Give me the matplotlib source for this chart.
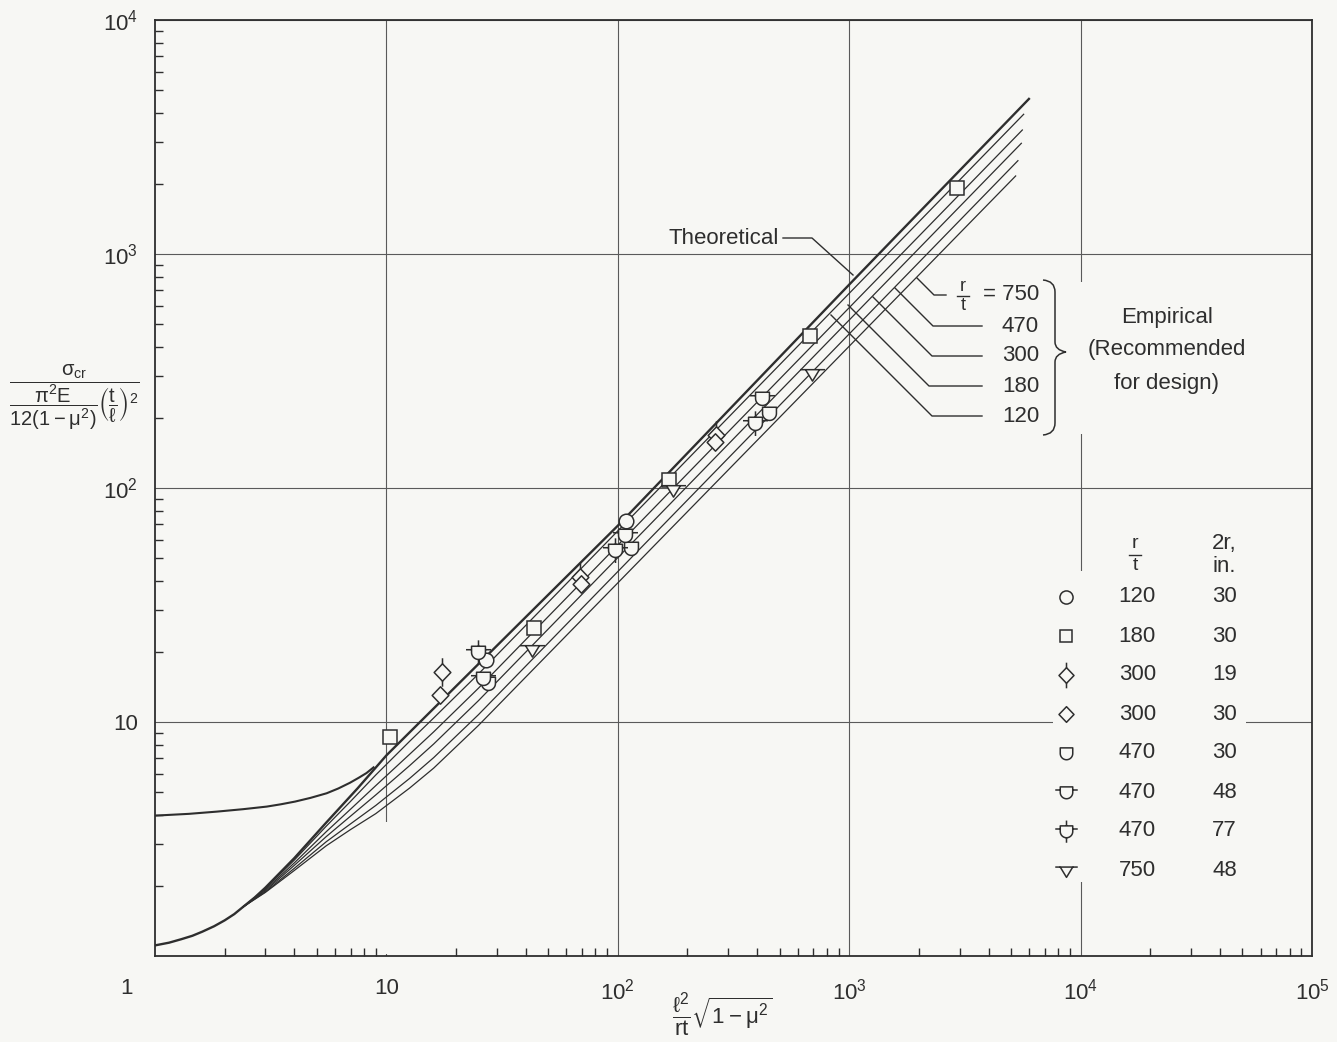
import matplotlib.pyplot as plt
import numpy as np
from matplotlib.path import Path
from matplotlib.patches import Rectangle, PathPatch
from matplotlib.lines import Line2D
from matplotlib.ticker import LogLocator, NullFormatter

plt.rcParams['font.family'] = ['Liberation Sans', 'DejaVu Sans']
plt.rcParams['mathtext.fontset'] = 'dejavusans'
plt.rcParams['mathtext.default'] = 'regular'

W, H = 1337, 1042
BG = '#f7f7f4'
INK = '#2e2e2e'
GRID = '#5a5a5a'

# ---- curves ----
# theoretical, simply supported
ss_z = [1, 1.15, 1.3, 1.45, 1.6, 1.8, 2.0, 2.2, 2.4, 2.7, 3.0, 4.0, 5.5, 7.5, 10, 100, 1000, 5980]
ss_k = [1.11, 1.14, 1.18, 1.22, 1.27, 1.34, 1.42, 1.51, 1.62, 1.78, 1.96, 2.62, 3.72, 5.2, 7.2, 69, 740, 4600]
# theoretical, clamped (low Z branch)
cl_z = [1, 1.4, 1.85, 2.4, 3.04, 3.5, 4.03, 4.7, 5.52, 6.2, 6.96, 7.6, 8.2, 8.8]
cl_k = [3.98, 4.05, 4.14, 4.24, 4.35, 4.45, 4.57, 4.74, 4.96, 5.2, 5.5, 5.78, 6.05, 6.4]

# empirical curves, one per r/t
emp_rt = ['120', '180', '300', '470', '750']
emp_z = [2.4, 3, 4, 5.5, 7, 9, 12.6, 16, 25]
emp_end_z = [5675, 5600, 5545, 5360, 5240]
emp_k_120 = [1.62, 1.94, 2.57, 3.59, 4.58, 5.94, 8.27, 10.4, 16.05, 3955]
emp_k_180 = [1.62, 1.92, 2.50, 3.40, 4.24, 5.35, 7.28, 9.07, 13.95, 3388]
emp_k_300 = [1.62, 1.90, 2.44, 3.24, 3.96, 4.88, 6.51, 8.05, 12.34, 2972]
emp_k_470 = [1.62, 1.88, 2.37, 3.08, 3.67, 4.40, 5.74, 7.04, 10.75, 2505]
emp_k_750 = [1.62, 1.87, 2.32, 2.96, 3.47, 4.06, 5.22, 6.35, 9.67, 2155]

# ---- test points ----
circle_x = [26.9, 108]
circle_y = [18.4, 72]
square_x = [10.4, 43.4, 166, 675, 2910]
square_y = [8.6, 25.2, 108, 446, 1915]
diamond_t_x = [17.4, 68.5, 267]
diamond_t_y = [16.4, 41.5, 168]
diamond_x = [17.0, 69.5, 262]
diamond_y = [13.0, 39.0, 157]
cup_x = [27.5, 113.5, 451]
cup_y = [14.7, 55.5, 210]
cup_h_x = [26.2, 107, 422]
cup_h_y = [15.4, 63, 242]
cup_hv_x = [24.9, 97, 391]
cup_hv_y = [20.0, 54.5, 189]
tri_x = [42.7, 173, 691]
tri_y = [20.6, 98.7, 309]

# legend table
leg_keys = ['circle', 'square', 'diamond_t', 'diamond', 'cup', 'cup_h', 'cup_hv', 'tri']
leg_rt = ['120', '180', '300', '300', '470', '470', '470', '750']
leg_d = ['30', '30', '19', '30', '30', '48', '77', '48']


# ---- custom marker shapes ----
def make_marker(kind):
    verts, codes = [], []

    def seg(p, q):
        verts.extend([p, q])
        codes.extend([Path.MOVETO, Path.LINETO])

    if kind.startswith('cup'):
        top = 0.9
        arc = np.linspace(0, -np.pi, 20)
        body = [(-1, top), (1, top), (1, 0)] + [(np.cos(a), np.sin(a)) for a in arc]
        verts.extend(body + [(0, 0)])
        codes.extend([Path.MOVETO] + [Path.LINETO] * (len(body) - 1) + [Path.CLOSEPOLY])
        if kind in ('cup_h', 'cup_hv'):
            seg((-1.8, 0.4), (-1, 0.4))
            seg((1, 0.4), (1.8, 0.4))
        if kind == 'cup_hv':
            seg((0, top), (0, 1.75))
            seg((0, -1), (0, -1.8))
    elif kind.startswith('diamond'):
        body = [(0, 1.25), (1.2, 0), (0, -1.25), (-1.2, 0)]
        verts.extend(body + [(0, 0)])
        codes.extend([Path.MOVETO] + [Path.LINETO] * 3 + [Path.CLOSEPOLY])
        if kind == 'diamond_t':
            seg((0, 1.25), (0, 2.05))
            seg((0, -1.25), (0, -2.05))
    elif kind == 'tri':
        body = [(-1, 0.55), (1, 0.55), (0, -1.1)]
        verts.extend(body + [(0, 0)])
        codes.extend([Path.MOVETO] + [Path.LINETO] * 2 + [Path.CLOSEPOLY])
        seg((-1.8, 0.55), (-1, 0.55))
        seg((1, 0.55), (1.8, 0.55))
    v = np.array(verts, float)
    scale = np.abs(v).max()
    return Path(v, codes), scale * 10.0


markers = {}
for k in ['cup', 'cup_h', 'cup_hv', 'diamond', 'diamond_t', 'tri']:
    markers[k] = make_marker(k)
markers['circle'] = ('o', 10.5)
markers['square'] = ('s', 9.8)

fig = plt.figure(figsize=(13.37, 10.42), dpi=100)
fig.patch.set_facecolor(BG)
ax = fig.add_axes([155 / W, 1 - 956 / H, (1312 - 155) / W, (956 - 20) / H])
ax.set_facecolor(BG)
ax.set_xscale('log')
ax.set_yscale('log')
ax.set_xlim(1, 1e5)
ax.set_ylim(1, 1e4)

# grid + ticks
ax.grid(True, which='major', color=GRID, linewidth=0.8)
ax.set_xticks([10, 100, 1000, 1e4, 1e5], ['10', '$10^2$', '$10^3$', '$10^4$', '$10^5$'])
ax.set_yticks([10, 100, 1000, 1e4], ['10', '$10^2$', '$10^3$', '$10^4$'])
ax.xaxis.set_minor_locator(LogLocator(base=10, subs=range(2, 10), numticks=20))
ax.yaxis.set_minor_locator(LogLocator(base=10, subs=range(2, 10), numticks=20))
ax.xaxis.set_minor_formatter(NullFormatter())
ax.yaxis.set_minor_formatter(NullFormatter())
ax.tick_params(which='major', length=0, labelsize=16, colors=INK)
ax.tick_params(axis='x', which='major', pad=16)
ax.tick_params(axis='y', which='major', pad=12)
ax.tick_params(which='minor', direction='in', length=5.5, width=1.0, color=INK,
               top=False, right=False)
for s in ax.spines.values():
    s.set_color(INK)
    s.set_linewidth(1.3)

# curves
ax.plot(ss_z, ss_k, color=INK, lw=1.7, zorder=3)
ax.plot(cl_z, cl_k, color=INK, lw=1.5, zorder=3)
for ks, zend in zip([emp_k_120, emp_k_180, emp_k_300, emp_k_470, emp_k_750], emp_end_z):
    ax.plot(emp_z + [zend], ks, color=INK, lw=0.9, zorder=2.5)

# points
pts = [('circle', circle_x, circle_y), ('square', square_x, square_y),
       ('diamond_t', diamond_t_x, diamond_t_y), ('diamond', diamond_x, diamond_y),
       ('cup', cup_x, cup_y), ('cup_h', cup_h_x, cup_h_y),
       ('cup_hv', cup_hv_x, cup_hv_y), ('tri', tri_x, tri_y)]
for key, xs, ys in pts:
    m, ms = markers[key]
    ax.plot(xs, ys, ls='none', marker=m, ms=ms, mfc=BG, mec=INK, mew=1.1, zorder=4)


# ---- helpers for annotation in pixel coordinates ----
def fx(x):
    return x / W


def fy(y):
    return 1 - y / H


def fline(xs, ys, lw=1.0):
    fig.add_artist(Line2D([fx(x) for x in xs], [fy(y) for y in ys], color=INK, lw=lw))


def ftext(x, y, s, size=16, ha='center', va='center', **kw):
    fig.text(fx(x), fy(y), s, fontsize=size, ha=ha, va=va, color=INK, **kw)


def blank(x0, y0, x1, y1):
    ax.add_patch(Rectangle((fx(x0), fy(y1)), fx(x1) - fx(x0), fy(y0) - fy(y1),
                           transform=fig.transFigure, fc=BG, ec='none', zorder=1.8))


# gridline breaks behind lettering
blank(1072, 282, 1256, 434)
blank(1053, 571, 1246, 882)
blank(380, 822, 394, 954)

# "1" at origin
ftext(127, 988, '1', size=16)

# axis titles
ftext(74, 397, r'$\dfrac{\sigma_{cr}}{\dfrac{\pi^2E}{12(1-\mu^2)}\left(\dfrac{t}{\ell}\right)^2}$', size=14.5)
ftext(722, 1015, r'$\dfrac{\ell^2}{rt}\sqrt{1-\mu^2}$', size=16)

# Theoretical label
ftext(779, 239, 'Theoretical', ha='right')
fline([783, 812, 853], [238, 238, 275])

# empirical r/t labels
lab_y = [295, 326, 356, 386, 416]
lead_end = [(917, 278), (895, 288), (873, 297), (848, 305), (831, 315)]
for i, rt in enumerate(emp_rt[::-1]):
    y = lab_y[i]
    ftext(1039, y, ('= ' if i == 0 else '') + rt, ha='right')
    xs = 946 if i == 0 else 982
    ex, ey = lead_end[i]
    knee = ex + (y - ey)
    fline([xs, knee, ex], [y, y, ey])
# r/t fraction for the top label
ftext(963, 286, 'r', size=13)
ftext(963, 306, 't', size=13)
fline([957, 969], [296, 296], lw=1.0)

# brace
bverts = [(1043, 280), (1055, 281), (1055, 292), (1055, 342), (1055, 350), (1066, 352),
          (1055, 354), (1055, 362), (1055, 423), (1055, 434), (1043, 435)]
bcodes = [Path.MOVETO, Path.CURVE3, Path.CURVE3, Path.LINETO, Path.CURVE3, Path.CURVE3,
          Path.CURVE3, Path.CURVE3, Path.LINETO, Path.CURVE3, Path.CURVE3]
bpath = Path([(fx(x), fy(y)) for x, y in bverts], bcodes)
fig.add_artist(PathPatch(bpath, transform=fig.transFigure, fc='none', ec=INK, lw=1.1))

ftext(1167, 317, 'Empirical')
ftext(1167, 349, '(Recommended')
ftext(1167, 384, 'for design)')

# legend table
ftext(1135, 543, 'r', size=14)
ftext(1135, 566, 't', size=14)
fline([1129, 1141], [555, 555])
ftext(1224, 543, '2r,', size=16)
ftext(1224, 567, 'in.', size=16)
for i, key in enumerate(leg_keys):
    y = 597 + 39 * i
    m, ms = markers[key]
    fig.add_artist(Line2D([fx(1066)], [fy(y)], ls='none', marker=m, ms=ms * 0.9,
                          mfc=BG, mec=INK, mew=1.1))
    ftext(1156, y, leg_rt[i], ha='right')
    ftext(1237, y, leg_d[i], ha='right')

fig.savefig('out.png', dpi=100, facecolor=BG)
